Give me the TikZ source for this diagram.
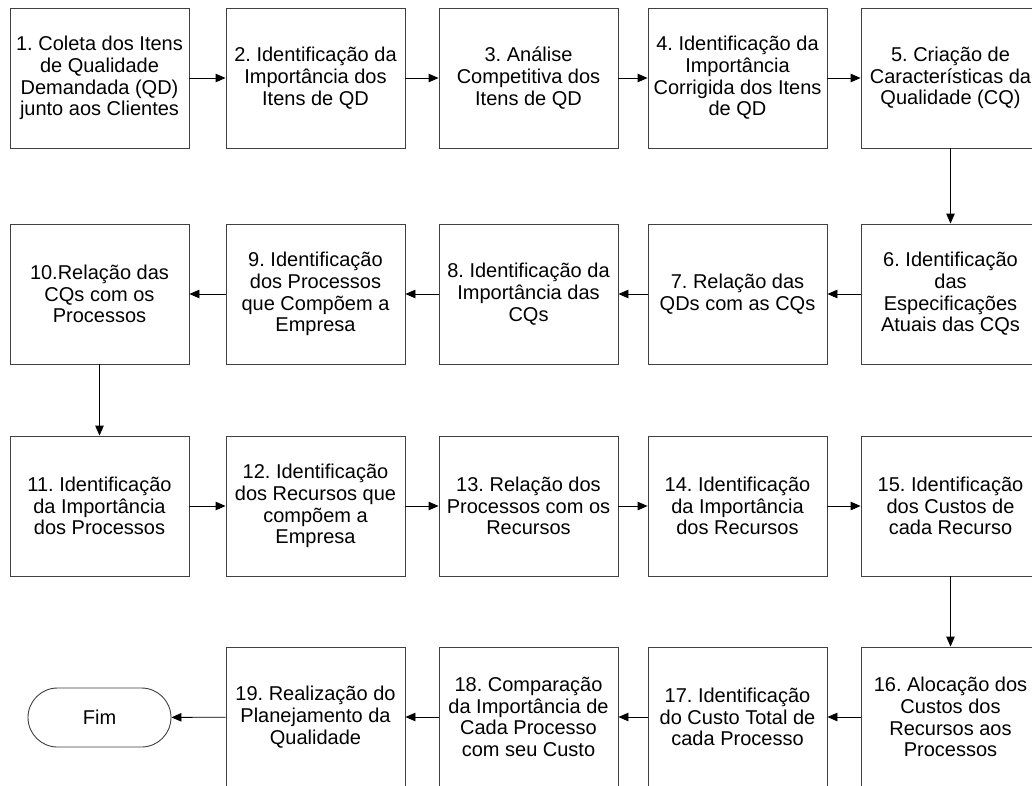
\documentclass[tikz,border=0pt]{standalone}
\usepackage{fontspec}
\setmainfont{Liberation Sans}
\usetikzlibrary{arrows.meta,shapes.misc}
\frenchspacing
\tikzset{
  stepbox/.style={draw=black!75, line width=0.9pt, minimum width=179pt, minimum height=140pt,
    inner sep=0pt, align=center, font=\fontsize{20}{21.7}\selectfont},
  flow/.style={draw=black, line width=0.9pt, -{Triangle[length=10pt,width=8.5pt]}},
  endbox/.style={draw=black!75, line width=0.9pt, rounded rectangle, minimum width=143pt,
    minimum height=59pt, inner sep=0pt, font=\fontsize{20}{21.7}\selectfont}
}
\begin{document}
\begin{tikzpicture}[x=1pt,y=-1pt]
\useasboundingbox (0,0) rectangle (1032,785);
\clip (0,0) rectangle (1032,785);
\fill[white] (0,0) rectangle (1032,785);
% column centres: 99.5, 315.5, 528.5, 737.5, 950.5 ; row centres: 78, 294, 506, 717
\node[stepbox] (n1) at (99.5,78) {1. Coleta dos Itens\\de Qualidade\\Demandada (QD)\\junto aos Clientes};
\node[stepbox] (n2) at (315.5,78) {2. Identificação da\\Importância dos\\Itens de QD};
\node[stepbox] (n3) at (528.5,78) {3. Análise\\Competitiva dos\\Itens de QD};
\node[stepbox] (n4) at (737.5,78) {4. Identificação da\\Importância\\Corrigida dos Itens\\de QD};
\node[stepbox] (n5) at (950.5,78) {5. Criação de\\Características da\\Qualidade (CQ)};
\node[stepbox] (n6) at (950.5,294) {6. Identificação\\das\\Especificações\\Atuais das CQs};
\node[stepbox] (n7) at (737.5,294) {7. Relação das\\QDs com as CQs};
\node[stepbox] (n8) at (528.5,294) {8. Identificação da\\Importância das\\CQs};
\node[stepbox] (n9) at (315.5,294) {9. Identificação\\dos Processos\\que Compõem a\\Empresa};
\node[stepbox] (n10) at (99.5,294) {10.Relação das\\CQs com os\\Processos};
\node[stepbox] (n11) at (99.5,506) {11. Identificação\\da Importância\\dos Processos};
\node[stepbox] (n12) at (315.5,506) {12. Identificação\\dos Recursos que\\compõem a\\Empresa};
\node[stepbox] (n13) at (528.5,506) {13. Relação dos\\Processos com os\\Recursos};
\node[stepbox] (n14) at (737.5,506) {14. Identificação\\da Importância\\dos Recursos};
\node[stepbox] (n15) at (950.5,506) {15. Identificação\\dos Custos de\\cada Recurso};
\node[stepbox] (n16) at (950.5,717) {16. Alocação dos\\Custos dos\\Recursos aos\\Processos};
\node[stepbox] (n17) at (737.5,717) {17. Identificação\\do Custo Total de\\cada Processo};
\node[stepbox] (n18) at (528.5,717) {18. Comparação\\da Importância de\\Cada Processo\\com seu Custo};
\node[stepbox] (n19) at (315.5,717) {19. Realização do\\Planejamento da\\Qualidade};
\node[endbox] (fim) at (99.5,717.5) {Fim};
\draw[flow] (n1) -- (n2);
\draw[flow] (n2) -- (n3);
\draw[flow] (n3) -- (n4);
\draw[flow] (n4) -- (n5);
\draw[flow] (n5) -- (n6);
\draw[flow] (n6) -- (n7);
\draw[flow] (n7) -- (n8);
\draw[flow] (n8) -- (n9);
\draw[flow] (n9) -- (n10);
\draw[flow] (n10) -- (n11);
\draw[flow] (n11) -- (n12);
\draw[flow] (n12) -- (n13);
\draw[flow] (n13) -- (n14);
\draw[flow] (n14) -- (n15);
\draw[flow] (n15) -- (n16);
\draw[flow] (n16) -- (n17);
\draw[flow] (n17) -- (n18);
\draw[flow] (n18) -- (n19);
\draw[flow] (n19) -- (fim);
\end{tikzpicture}
\end{document}
